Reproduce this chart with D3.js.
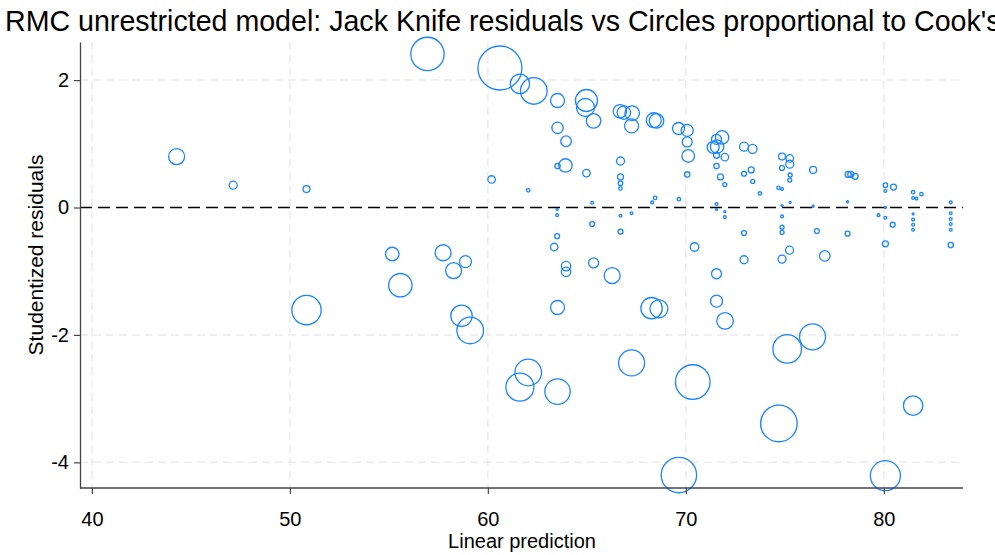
<!DOCTYPE html>
<html>
<head>
<meta charset="utf-8">
<script src="https://cdn.jsdelivr.net/npm/d3@7"></script>
<style>
  html, body { margin: 0; padding: 0; background: #fff; }
  svg { display: block; }
  text { font-family: "Liberation Sans", Arial, Helvetica, sans-serif; fill: #000; }
</style>
</head>
<body>
<svg id="chart" width="995" height="555"></svg>
<script>
const titleText = "RMC unrestricted model: Jack Knife residuals vs Circles proportional to Cook's D";
const xLabel = "Linear prediction";
const yLabel = "Studentized residuals";
const xTicks = [40, 50, 60, 70, 80];
const yTicks = [-4, -2, 0, 2];

// Linear prediction (x), jackknife residual (y), Cook's D (circle area)
const linPred = [
  44.28, 47.14, 50.84, 56.95, 60.61, 61.62, 62.32, 63.52, 64.98, 64.93,
  65.34, 63.52, 63.95, 63.92, 63.52, 60.19, 62.04, 64.98, 66.70, 66.70,
  66.70, 66.70, 65.27, 68.45, 68.30, 69.65, 66.67, 66.87, 67.29, 67.26,
  68.38, 68.52, 69.63, 70.07, 70.07, 70.12, 70.07, 63.50, 63.50, 65.27,
  66.70, 67.26, 63.50, 66.70, 63.35, 55.17, 57.74, 58.87, 58.27, 55.58,
  63.95, 63.95, 65.34, 66.28, 70.44, 71.55, 72.94, 72.94, 74.86, 75.24,
  77.02, 76.62, 78.17, 74.86, 74.86, 74.86, 80.08, 80.45, 80.08, 79.73,
  81.48, 81.48, 81.48, 81.48, 83.38, 83.38, 83.38, 83.38, 83.38, 83.38,
  81.48, 81.48, 81.65, 81.90, 80.08, 80.49, 80.08, 78.17, 76.43, 75.27,
  71.55, 71.97, 71.97, 73.74, 71.83, 71.55, 71.38, 71.58, 71.55, 71.97,
  71.55, 71.75, 71.97, 72.94, 73.37, 72.94, 73.30, 73.38, 74.86, 75.25,
  75.25, 74.86, 75.27, 75.25, 74.68, 74.86, 76.43, 78.20, 78.33, 78.55,
  50.84, 58.67, 59.11, 63.52, 62.04, 61.62, 63.52, 68.27, 68.64, 71.55,
  71.98, 67.26, 70.35, 75.12, 76.40, 74.70, 81.48, 69.65, 80.08, 71.55,
  80.08, 74.86
];
const residual = [
  0.80, 0.35, 0.29, 2.41, 2.19, 1.94, 1.83, 1.68, 1.68, 1.57,
  1.36, 1.25, 1.04, 0.66, 0.65, 0.44, 0.27, 0.54, 0.73, 0.48,
  0.38, 0.30, 0.075, 0.15, 0.08, 0.13, 1.51, 1.49, 1.48, 1.28,
  1.37, 1.36, 1.24, 1.21, 1.03, 0.81, 0.52, -0.12, -0.03, -0.26,
  -0.13, -0.09, -0.45, -0.38, -0.62, -0.73, -0.71, -0.85, -0.99, -1.22,
  -0.92, -1.01, -0.87, -1.07, -0.62, -1.04, -0.82, -0.40, -0.81, -0.67,
  -0.76, -0.37, -0.41, -0.39, -0.31, -0.14, -0.57, -0.27, -0.16, -0.12,
  -0.10, -0.19, -0.27, -0.35, -0.09, -0.18, -0.26, -0.35, -0.59, 0.08,
  0.24, 0.15, 0.14, 0.21, 0.35, 0.32, 0.26, 0.09, 0.02, 0.08,
  0.055, -0.066, -0.15, 0.22, 1.10, 1.07, 0.945, 0.955, 0.82, 0.79,
  0.65, 0.48, 0.36, 0.955, 0.92, 0.53, 0.59, 0.41, 0.80, 0.77,
  0.68, 0.62, 0.51, 0.43, 0.31, 0.29, 0.59, 0.52, 0.52, 0.49,
  -1.61, -1.70, -1.93, -1.57, -2.59, -2.82, -2.89, -1.58, -1.59, -1.47,
  -1.78, -2.44, -2.74, -2.22, -2.03, -3.39, -3.11, -4.20, -4.21, -0.03,
  0.00, 0.03
];
const cooksD = [
  0.064, 0.016, 0.012, 0.279, 0.484, 0.094, 0.177, 0.049, 0.121, 0.081,
  0.053, 0.032, 0.028, 0.045, 0.007, 0.014, 0.003, 0.014, 0.016, 0.009,
  0.005, 0.003, 0.002, 0.003, 0.002, 0.003, 0.045, 0.045, 0.053, 0.049,
  0.056, 0.053, 0.036, 0.036, 0.025, 0.040, 0.007, 0.002, 0.001, 0.006,
  0.002, 0.002, 0.006, 0.006, 0.014, 0.046, 0.064, 0.036, 0.064, 0.137,
  0.022, 0.022, 0.025, 0.064, 0.018, 0.025, 0.016, 0.006, 0.016, 0.016,
  0.028, 0.006, 0.006, 0.004, 0.004, 0.002, 0.009, 0.006, 0.002, 0.002,
  0.001, 0.002, 0.002, 0.002, 0.002, 0.002, 0.002, 0.002, 0.007, 0.002,
  0.003, 0.002, 0.002, 0.003, 0.005, 0.009, 0.002, 0.001, 0.001, 0.001,
  0.002, 0.001, 0.002, 0.003, 0.045, 0.025, 0.036, 0.045, 0.009, 0.014,
  0.007, 0.009, 0.004, 0.020, 0.020, 0.006, 0.009, 0.004, 0.012, 0.014,
  0.016, 0.006, 0.004, 0.004, 0.003, 0.002, 0.012, 0.009, 0.009, 0.009,
  0.216, 0.114, 0.177, 0.049, 0.177, 0.196, 0.161, 0.114, 0.081, 0.036,
  0.069, 0.169, 0.299, 0.204, 0.169, 0.335, 0.094, 0.313, 0.225, 0.001,
  0.001, 0.001
];

const points = linPred.map((xv, i) => ({ x: xv, y: residual[i], d: cooksD[i] }));

const svg = d3.select("#chart");
const mLeft = 80, mRight = 963, mTop = 42, mBottom = 488;

const x = d3.scaleLinear().domain([39.4, 84.0]).range([mLeft, mRight]);
const y = d3.scaleLinear().domain([-4.403, 2.598]).range([mBottom, mTop]);
const r = d3.scaleSqrt().domain([0, 0.5]).range([0, 22.36]);

const blue = "#1a85ff";
const gridColor = "#ececec";

// Grid
const grid = svg.append("g");
grid.selectAll("line.vg").data(xTicks).join("line")
  .attr("x1", d => x(d)).attr("x2", d => x(d))
  .attr("y1", mTop).attr("y2", mBottom)
  .attr("stroke", gridColor).attr("stroke-width", 1.5)
  .attr("stroke-dasharray", "8,5");
grid.selectAll("line.hg").data(yTicks.filter(d => d !== 0)).join("line")
  .attr("x1", mLeft).attr("x2", mRight)
  .attr("y1", d => y(d)).attr("y2", d => y(d))
  .attr("stroke", gridColor).attr("stroke-width", 1.5)
  .attr("stroke-dasharray", "8,5");

// Zero reference line
svg.append("line")
  .attr("x1", mLeft).attr("x2", mRight)
  .attr("y1", y(0)).attr("y2", y(0))
  .attr("stroke", "#000").attr("stroke-width", 1.5)
  .attr("stroke-dasharray", "12,6");

// Circles
svg.append("g").selectAll("circle").data(points).join("circle")
  .attr("cx", d => x(d.x))
  .attr("cy", d => y(d.y))
  .attr("r", d => Math.max(0.8, r(d.d)))
  .attr("fill", "none")
  .attr("stroke", blue)
  .attr("stroke-width", 1.3);

// Axes
const fmt = d => String(d);
const xAxis = d3.axisBottom(x).tickValues(xTicks).tickFormat(fmt).tickSize(6).tickPadding(32).tickSizeOuter(0);
const yAxis = d3.axisLeft(y).tickValues(yTicks).tickFormat(fmt).tickSize(6).tickPadding(5).tickSizeOuter(0);

const gx = svg.append("g").attr("transform", `translate(0,${mBottom})`).call(xAxis);
const gy = svg.append("g").attr("transform", `translate(${mLeft},0)`).call(yAxis);
gx.select(".domain").attr("stroke", "#444").attr("stroke-width", 1.3).attr("d", `M${mLeft},0H${mRight}`);
gy.select(".domain").attr("stroke", "#444").attr("stroke-width", 1.3);
[gx, gy].forEach(g => {
  g.selectAll(".tick line").attr("stroke", "#444").attr("stroke-width", 1.2);
  g.selectAll(".tick text").attr("font-size", 20).attr("fill", "#000")
    .attr("font-family", "'Liberation Sans', Arial, sans-serif");
});
gx.selectAll(".tick text").attr("dy", "0");

// Title
svg.append("text")
  .attr("x", 5).attr("y", 31)
  .attr("font-size", 28.6)
  .text(titleText);

// Axis titles
svg.append("text")
  .attr("x", 522).attr("y", 548)
  .attr("text-anchor", "middle")
  .attr("font-size", 20)
  .text(xLabel);
svg.append("text")
  .attr("transform", `translate(43,255) rotate(-90)`)
  .attr("text-anchor", "middle")
  .attr("font-size", 21)
  .text(yLabel);
</script>
</body>
</html>
